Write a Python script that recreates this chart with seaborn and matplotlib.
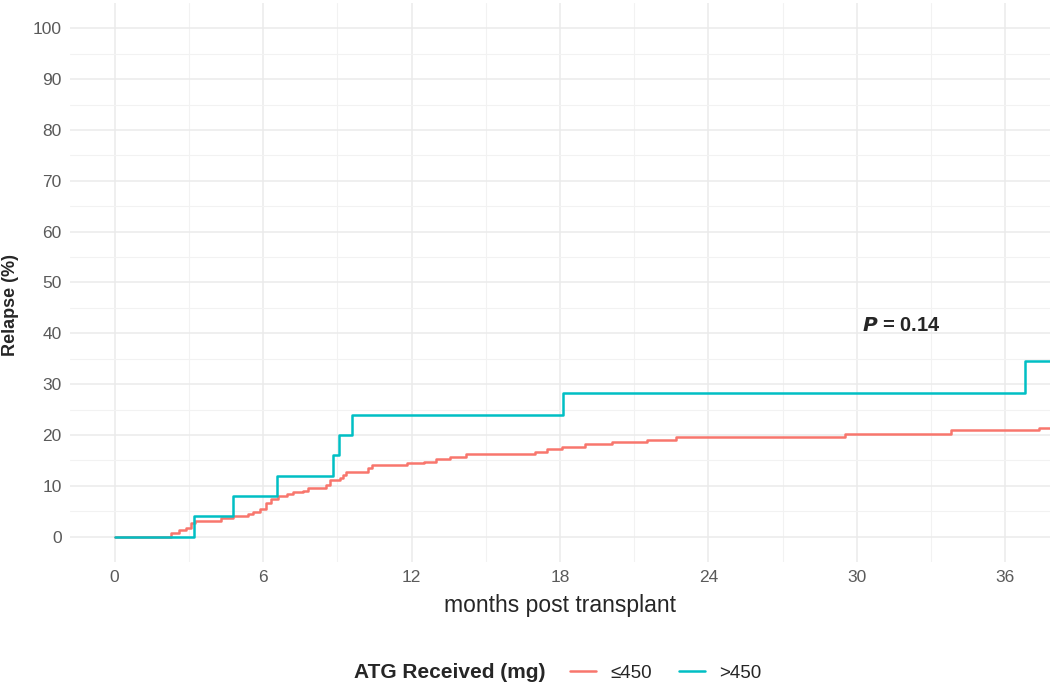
import numpy as np
import pandas as pd
import matplotlib
matplotlib.use("Agg")
import matplotlib.pyplot as plt
import seaborn as sns

# cumulative incidence of relapse (step-post)
low_months = [0, 2.29, 2.6, 2.9, 3.1, 3.24, 4.3, 4.8, 5.4, 5.6, 5.87, 6.1, 6.34, 6.6,
              6.95, 7.2, 7.6, 7.8, 8.56, 8.7, 9.1, 9.24, 9.37, 10.25, 10.4, 11.8, 12.5,
              13.0, 13.55, 14.2, 17.0, 17.46, 18.07, 19.0, 20.1, 21.5, 22.7, 29.5, 33.8,
              37.35, 38.0]
low_relapse = [0, 0.8, 1.2, 1.65, 2.6, 3.1, 3.6, 4.07, 4.5, 4.9, 5.4, 6.6, 7.4, 7.9,
               8.3, 8.7, 9.05, 9.5, 10.2, 11.2, 11.5, 12.1, 12.8, 13.45, 14.1, 14.4, 14.75,
               15.2, 15.7, 16.3, 16.7, 17.2, 17.7, 18.2, 18.7, 19.0, 19.5, 20.1, 21.0,
               21.4, 21.4]

high_months = [0, 3.2, 4.77, 6.58, 8.82, 9.05, 9.59, 18.13, 36.77, 38.0]
high_relapse = [0, 4, 8, 12, 16, 20, 24, 28.3, 34.6, 34.6]

groups = ["\u2264450", ">450"]
colors = ["#F8766D", "#00BFC4"]
p_label = "0.14"

df = pd.concat([
    pd.DataFrame({"months": low_months, "relapse": low_relapse, "group": groups[0]}),
    pd.DataFrame({"months": high_months, "relapse": high_relapse, "group": groups[1]}),
])

sns.set_style("whitegrid")
plt.rcParams["font.family"] = ["Liberation Sans", "DejaVu Sans"]

fig = plt.figure(figsize=(10.5, 6.83), dpi=100)
ax = fig.add_axes([70 / 1050, 1 - 562 / 683, 1 - 70 / 1050, (562 - 3) / 683])

sns.lineplot(data=df, x="months", y="relapse", hue="group", hue_order=groups,
             palette=colors, drawstyle="steps-post", sort=False, linewidth=1.8,
             estimator=None, ax=ax)

ax.set_xlim(-1.8, 37.8)
ax.set_ylim(-5, 105)
ax.set_xticks(np.arange(0, 37, 6))
ax.set_xticks(np.arange(3, 37, 6), minor=True)
ax.set_yticks(np.arange(0, 101, 10))
ax.set_yticks(np.arange(5, 101, 10), minor=True)
ax.grid(which="major", color="#EBEBEB", linewidth=1.1)
ax.grid(which="minor", color="#F2F2F2", linewidth=0.8)
ax.tick_params(which="both", length=0, labelsize=12.5, labelcolor="#5A5A5A", pad=6)
for s in ax.spines.values():
    s.set_visible(False)

ax.set_xlabel("months post transplant", fontsize=16.5, labelpad=6)
ax.set_ylabel("Relapse (%)", fontsize=13, fontweight="bold")
ax.yaxis.set_label_coords(-0.052, 0.46)

ax.text(31.8, 41.6, r"$\bfit{P}$" + " = " + p_label, fontsize=14.5, fontweight="bold",
        ha="center", va="center")

handles, labels = ax.get_legend_handles_labels()
ax.get_legend().remove()
fig.text(546 / 1050, 1 - 673 / 683, "ATG Received (mg)", fontsize=15,
         fontweight="bold", ha="right", va="center")
fig.legend(handles, labels, loc="center left", bbox_to_anchor=(570 / 1050, 1 - 673 / 683),
           ncol=2, frameon=False, fontsize=13.5, handlelength=1.4, handletextpad=0.75,
           columnspacing=1.45, borderaxespad=0, borderpad=0)

fig.savefig("out.png", dpi=100)
